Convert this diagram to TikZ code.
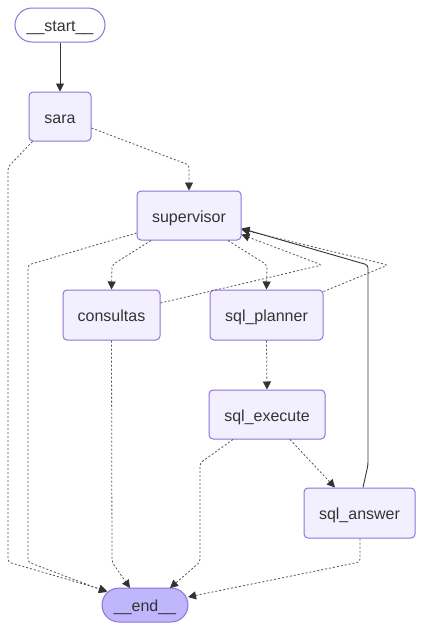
\documentclass[tikz,border=0pt]{standalone}
\usepackage{fontspec}
\setmainfont{Liberation Sans}
\usetikzlibrary{arrows.meta,calc}
\definecolor{nodefill}{HTML}{F2F0FF}
\definecolor{nodeline}{HTML}{9370DB}
\definecolor{endfill}{HTML}{BFB6FC}
\definecolor{txt}{HTML}{333333}
\definecolor{edge}{HTML}{333333}
\definecolor{dedgecol}{HTML}{555555}
\begin{document}
\begin{tikzpicture}[x=1pt,y=-1pt,
  every node/.style={font=\fontsize{16}{19}\selectfont, text=txt, inner sep=0pt, text height=16pt, text depth=3pt},
  box/.style={draw=nodeline, fill=nodefill, line width=1pt, rounded corners=4pt},
  pill/.style={draw=nodeline, line width=1pt, rounded corners=17pt},
  tipstyle/.style={-{Triangle[length=8pt,width=8pt,color=edge]}},
  dedge/.style={tipstyle, draw=dedgecol, line width=0.8pt, dash pattern=on 2pt off 2pt, rounded corners=3pt},
  sedge/.style={tipstyle, draw=edge, line width=0.9pt, rounded corners=3pt}]
\useasboundingbox (0,0) rectangle (423,630);
\fill[white] (0,0) rectangle (423,630);
% nodes
\node[pill, fill=white, minimum width=90pt, minimum height=34pt] (start) at (60,25) {\_\_start\_\_};
\node[box, minimum width=62pt, minimum height=49pt] (sara) at (60,116.5) {sara};
\node[box, minimum width=104pt, minimum height=49pt] (supervisor) at (189,215.5) {supervisor};
\node[box, minimum width=97pt, minimum height=50pt] (consultas) at (111.5,315) {consultas};
\node[box, minimum width=113pt, minimum height=50pt] (planner) at (266.5,315) {sql\_planner};
\node[box, minimum width=116pt, minimum height=49pt] (execute) at (267,414.5) {sql\_execute};
\node[box, minimum width=111pt, minimum height=50pt] (answer) at (359.5,513) {sql\_answer};
\node[pill, fill=endfill, minimum width=86pt, minimum height=34pt] (end) at (145,605) {\_\_end\_\_};
% bend points
\coordinate (c1) at (189,165);
\coordinate (c2a) at (8,167);   \coordinate (c2b) at (8,562);
\coordinate (c3a) at (28,265);  \coordinate (c3b) at (28,562);
\coordinate (c4) at (112,265);
\coordinate (c5) at (267,265);
\coordinate (c6) at (322,265);
\coordinate (c7) at (388,265);
\coordinate (c8a) at (368,465); \coordinate (c8b) at (368,265);
\coordinate (c9a) at (200,463); \coordinate (c9b) at (200,562);
\coordinate (c10) at (112,562);
\coordinate (c11) at (360,562);
% edges
\draw[sedge] (start.south) -- (sara.north);
\draw[dedge] ($(sara.east)+(0,11.5)$) -- (c1) -- (supervisor.north);
\draw[dedge] ($(sara.south west)+(4,0)$) -- (c2a) -- (c2b) -- ($(end.center)+(-38,-14)$);
\draw[dedge] ($(supervisor.west)+(0,17.5)$) -- (c3a) -- (c3b) -- ($(end.center)+(-38,-13)$);
\draw[dedge] ($(supervisor.south)+(-38,0)$) -- (c4) -- (consultas.north);
\draw[dedge] ($(supervisor.south)+(39,0)$) -- (c5) -- (planner.north);
\draw[dedge] ($(consultas.east)+(0,-12)$) -- (c6) -- ($(supervisor.east)+(0,19)$);
\draw[dedge] ($(planner.north east)+(0,2)$) -- (c7) -- ($(supervisor.east)+(0,14)$);
\draw[sedge] ($(answer.north)+(3.5,0)$) -- (c8a) -- (c8b) -- ($(supervisor.east)+(0,13)$);
\draw[dedge] (planner.south) -- (execute.north);
\draw[dedge] ($(execute.south)+(23,0)$) -- ($(answer.north)+(-24.5,0)$);
\draw[dedge] ($(execute.south)+(-34,0)$) -- (c9a) -- (c9b) -- ($(end.center)+(25,-17)$);
\draw[dedge] (consultas.south) -- (c10) -- ($(end.center)+(-15,-17)$);
\draw[dedge] ($(answer.south)+(0.5,0)$) -- (c11) -- ($(end.center)+(43,-8)$);
\end{tikzpicture}
\end{document}
